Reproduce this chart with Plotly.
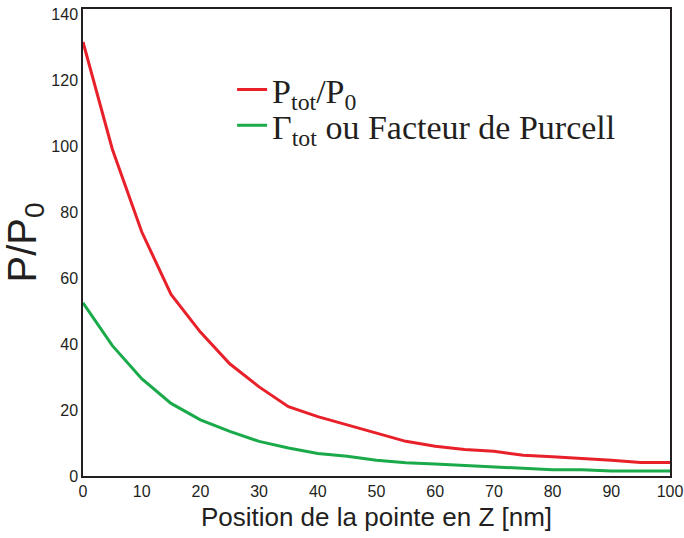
import plotly.graph_objects as go

z_nm = [0, 5, 10, 15, 20, 25, 30, 35, 40, 45, 50, 55, 60, 65, 70, 75, 80, 85, 90, 95, 100]
p_tot = [131.5, 99, 74, 55, 43.6, 34, 27, 21, 18, 15.5, 13, 10.5, 9, 8, 7.5, 6.3, 5.8, 5.4, 4.8, 4.1, 4.1]
gamma_tot = [52.5, 39.5, 29.5, 22, 17, 13.5, 10.5, 8.5, 6.8, 6, 4.8, 4, 3.6, 3.2, 2.8, 2.3, 1.9, 1.9, 1.5, 1.5, 1.5]

fig = go.Figure()
fig.add_trace(go.Scatter(x=z_nm, y=p_tot, mode='lines', showlegend=True,
                         name='P<sub>tot</sub>/P<sub>0</sub>', legend='legend',
                         line=dict(color='#e8202a', width=3)))
fig.add_trace(go.Scatter(x=z_nm, y=gamma_tot, mode='lines', showlegend=True,
                         name='Γ<sub>tot</sub> ou Facteur de Purcell', legend='legend2',
                         line=dict(color='#1aaa4a', width=3)))

axis_style = dict(showline=True, linecolor='#231f20', linewidth=1.5, mirror=True,
                  showgrid=False, zeroline=False, ticks='', automargin=False,
                  ticklabeloverflow='allow',
                  tickfont=dict(family='Liberation Sans, Arial', size=16, color='#231f20'))

fig.update_xaxes(range=[0, 100], dtick=10,
                 title=dict(text='Position de la pointe en Z [nm]', standoff=9,
                            font=dict(family='Liberation Sans, Arial', size=26, color='#231f20')),
                 **axis_style)
fig.update_yaxes(range=[0, 141.5], dtick=20,
                 title=dict(text='P/P<sub>0</sub>', standoff=10,
                            font=dict(family='Liberation Sans, Arial', size=40, color='#231f20')),
                 **axis_style)

legend_font = dict(family='Liberation Serif, DejaVu Serif', size=34, color='#231f20')

fig.update_layout(
    width=684, height=538,
    margin=dict(l=83, r=14, t=9, b=62),
    plot_bgcolor='white', paper_bgcolor='white',
    showlegend=True,
    legend=dict(x=0.254, y=0.827, xanchor='left', yanchor='middle',
                bgcolor='rgba(0,0,0,0)', font=legend_font),
    legend2=dict(x=0.254, y=0.75, xanchor='left', yanchor='middle',
                 bgcolor='rgba(0,0,0,0)', font=legend_font),
)

# drop the browser's default 8px body margin so the figure fills the window
fig.write_html("out.html", config={'displayModeBar': False},
               post_script="document.body.style.margin='0';")
